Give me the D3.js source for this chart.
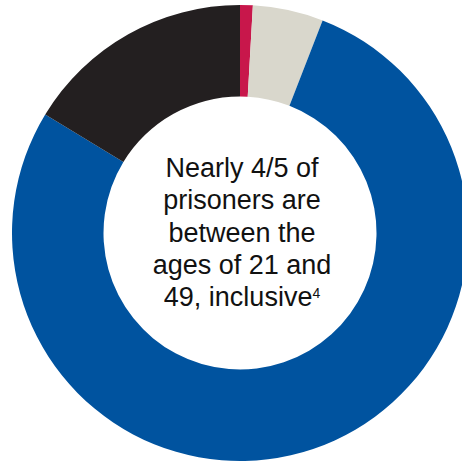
<!DOCTYPE html>
<html>
<head>
<meta charset="utf-8">
<script src="https://cdn.jsdelivr.net/npm/d3@7"></script>
<style>
  body { margin: 0; background: #fff; }
</style>
</head>
<body>
<div id="vizArea"></div>
<script>
// Age groups, clockwise from the top
const groupes = ['Under 21', '65 and over', '21 to 49', '50 to 64']
const parts = [0.9, 5.0, 77.8, 16.3]
const couleurs = ['#c8174b', '#d9d7cc', '#00539f', '#231f20']

// Centre label
const lignes = ['Nearly 4/5 of', 'prisoners are', 'between the', 'ages of 21 and', '49, inclusive']
const noteRef = '4'

const width = 462,
    height = 463

const cx = 240, cy = 233

const data = groupes.map((g, i) => ({"groupe": g, "part": parts[i]}))

const svg = d3.select('#vizArea')
    .append('svg')
    .attr("width", width)
    .attr("height", height)

const figure = svg.append('g')
    .attr("transform", "translate(" + cx + "," + cy + ")")

const colorScale = d3.scaleOrdinal()
    .domain(groupes)
    .range(couleurs)

const pie = d3.pie()
    .sort(null)
    .value(d => d.part)

const arc = d3.arc()
    .innerRadius(136.5)
    .outerRadius(228)

figure.selectAll('path')
    .data(pie(data))
    .join('path')
    .attr('d', arc)
    .attr('fill', d => colorScale(d.data.groupe))

// Texte au centre
const label = figure.append('text')
    .attr('text-anchor', 'middle')
    .attr('font-family', 'Liberation Sans, Arial, sans-serif')
    .attr('font-size', 27)
    .attr('fill', '#111')

lignes.forEach((l, i) => {
    const t = label.append('tspan')
        .attr('x', 2)
        .attr('y', -56 + i * 32.3)
        .text(l)
    if (i === lignes.length - 1) {
        t.append('tspan')
            .attr('font-size', 14)
            .attr('dy', -8)
            .text(noteRef)
    }
})
</script>
</body>
</html>
